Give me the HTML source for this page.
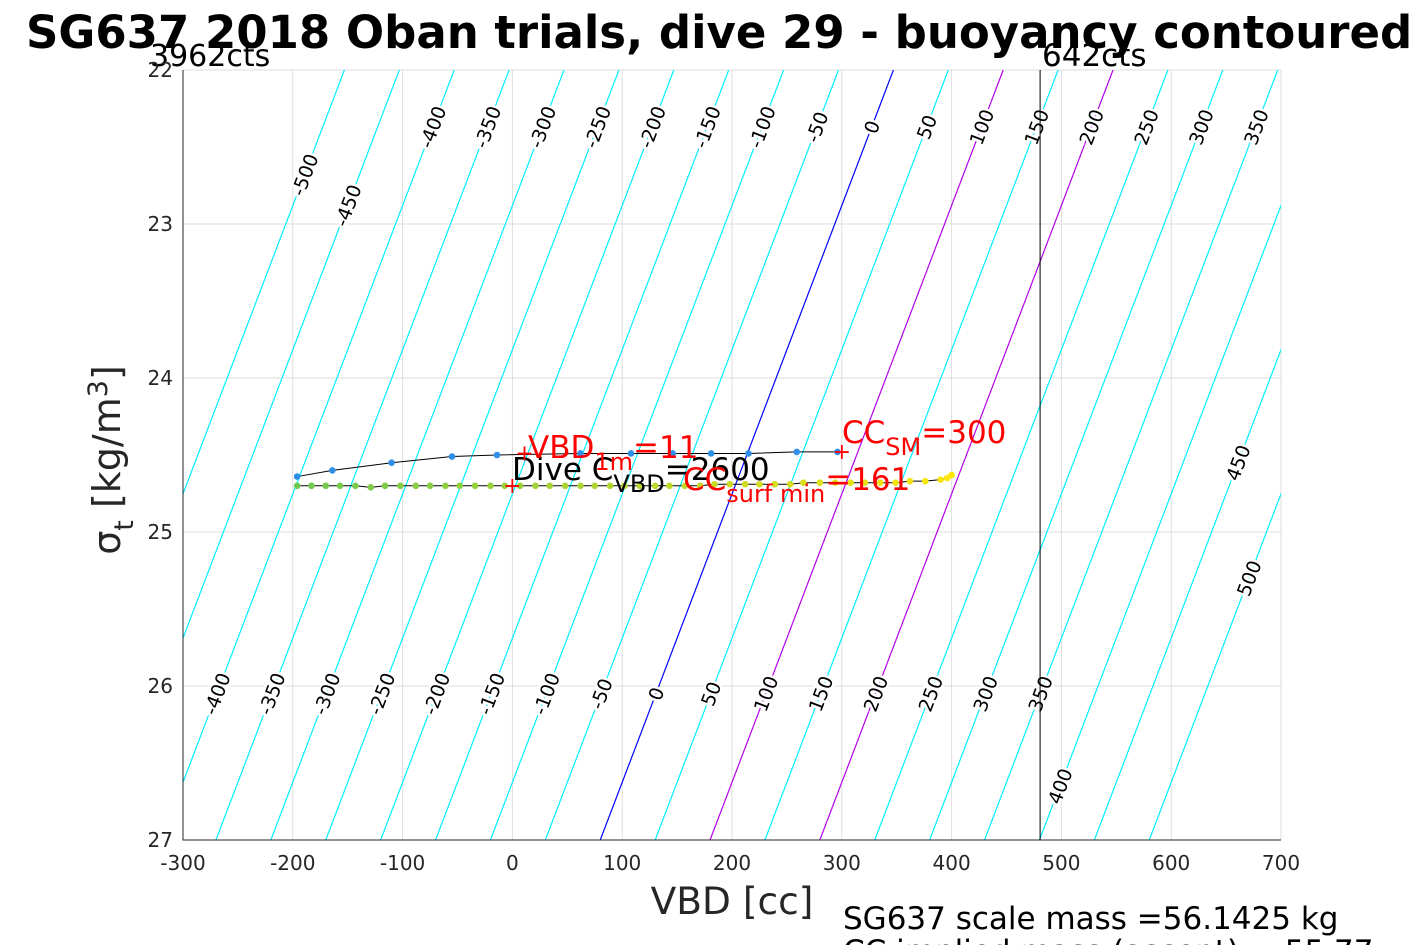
<!DOCTYPE html>
<html><head><meta charset="utf-8"><style>
body{margin:0;background:#fff;}
svg{display:block;font-family:"DejaVu Sans","Liberation Sans",sans-serif;}
</style></head><body>
<svg id="c" width="1417" height="945" viewBox="0 0 1417 945">
<text x="26" y="48" font-size="45" font-weight="bold">SG637 2018 Oban trials, dive 29 - buoyancy contoured</text>
<text x="150" y="66" font-size="30">3962cts</text>
<text x="1042" y="66" font-size="31">642cts</text>
<g id="grid"></g><g id="cont"></g><g id="data"></g><g id="ax"></g>
<text x="732" y="914" font-size="37.5" text-anchor="middle" fill="#262626">VBD [cc]</text>
<text transform="translate(120,460) rotate(-90)" font-size="38" text-anchor="middle" fill="#262626">σ<tspan font-size="27" dy="13">t</tspan><tspan dy="-13"> [kg/m</tspan><tspan font-size="27" dy="-13">3</tspan><tspan dy="13">]</tspan></text>
<text x="843" y="929" font-size="31">SG637 scale mass =56.1425 kg</text>
<text x="843" y="962" font-size="31">CC implied mass (ascent) = 55.77</text>
</svg>
<script>
const xTicks=[-300,-200,-100,0,100,200,300,400,500,600,700];
const yTicks=[22,23,24,25,26,27];
const contourLevels=[-500,-450,-400,-350,-300,-250,-200,-150,-100,-50,0,50,100,150,200,250,300,350,400,450,500];
const downVBD=[-196,-164,-110,-55,-14,62,108,146,181,215,259,296];
const downSigma=[24.64,24.60,24.55,24.51,24.50,24.49,24.49,24.49,24.49,24.49,24.48,24.48];
const upVBD=[-196,-183,-170,-157,-143,-129,-116,-102,-88,-75,-61,-48,-34,-20,-7,7,21,34,48,62,75,89,102,116,130,143,157,171,184,198,212,225,239,253,265,280,294,308,321,335,349,362,376,390,396,400];
const upSigma=[24.70,24.70,24.70,24.70,24.70,24.71,24.70,24.70,24.70,24.70,24.70,24.70,24.70,24.70,24.70,24.70,24.70,24.70,24.70,24.70,24.70,24.70,24.70,24.70,24.70,24.70,24.70,24.70,24.69,24.69,24.69,24.69,24.69,24.69,24.68,24.68,24.68,24.68,24.68,24.68,24.68,24.67,24.67,24.66,24.65,24.63];
const NS="http://www.w3.org/2000/svg";
const X=v=>183+(v+300)*1.098, Y=s=>70+(s-22)*154;
const vbd0=s=>80+53.4*(27-s);
function mk(p,t,a){const e=document.createElementNS(NS,t);for(const k in a)e.setAttribute(k,a[k]);document.getElementById(p).appendChild(e);return e;}
xTicks.forEach(v=>{const l=mk('grid','line',{x1:X(v),x2:X(v),y1:70,y2:840,stroke:'#dedede'});


const t=mk('ax','text',{x:X(v),y:870,'font-size':20,'text-anchor':'middle',fill:'#262626'});t.textContent=v;

});
yTicks.forEach(s=>{const l=mk('grid','line',{x1:183,x2:1281,y1:Y(s),y2:Y(s),stroke:'#dedede'});


const t=mk('ax','text',{x:173,y:Y(s)+7,'font-size':20,'text-anchor':'end',fill:'#262626'});t.textContent=s;

});
const ax=mk('ax','path',{d:'M183,70V840H1281',fill:'none',stroke:'#262626'});


const cp=mk('cont','clipPath',{id:'pc'});const r=document.createElementNS(NS,'rect');
r.setAttribute('x',183);r.setAttribute('y',70);r.setAttribute('width',1098);r.setAttribute('height',770);cp.appendChild(r);
const lg=mk('cont','g',{'clip-path':'url(#pc)'});lg.id='lines';
const ang=-Math.atan2(770,(vbd0(22)-vbd0(27))*1.098)*180/Math.PI;
function topS(b){if(b==-500)return 22.68;if(b==-450)return 22.88;return 22.37;}
function botS(b){if(b==400)return 26.65;if(b==450)return 24.55;if(b==500)return 25.3;return 26.05;}
contourLevels.forEach(b=>{
 const col=b==0?'#0000ff':(b==100||b==200)?'#b400e6':'#00f0ff';
 const l=mk('lines','line',{x1:X(b+vbd0(27)),y1:Y(27),x2:X(b+vbd0(22)),y2:Y(22),stroke:col,'stroke-width':1.2});
 
 
 [topS(b),botS(b)].forEach((s,i)=>{
  if(i==0&&b>350)return; if(i==1&&b<-400)return;
  const x=X(b+vbd0(s)),y=Y(s);if(x<185||x>1279)return;
  const t=mk('cont','text',{x:x,y:y+7,'font-size':19,'text-anchor':'middle',transform:`rotate(${ang},${x},${y})`,stroke:'#fff','stroke-width':5,'paint-order':'stroke'});
  t.textContent=b;
  
  
 });
});
const vl=mk('data','line',{x1:X(480.6),x2:X(480.6),y1:70,y2:840,stroke:'#000'});


const dp=mk('data','polyline',{points:downVBD.map((v,i)=>X(v)+','+Y(downSigma[i])).join(' '),fill:'none',stroke:'#000','stroke-width':1});


const up=mk('data','polyline',{points:upVBD.map((v,i)=>X(v)+','+Y(upSigma[i])).join(' '),fill:'none',stroke:'#000','stroke-width':1});


downVBD.forEach((v,i)=>{const c=mk('data','circle',{cx:X(v),cy:Y(downSigma[i]),r:3.3,fill:'#2f8fe6'});

});
upVBD.forEach((v,i)=>{const f=i/(upVBD.length-1);const rr=Math.round(110+145*f),gg=Math.round(200+30*f),bb=Math.round(80-70*f);
const c=mk('data','circle',{cx:X(v),cy:Y(upSigma[i]),r:3.3,fill:`rgb(${rr},${gg},${bb})`});

});
function txt(x,y,s,html,name,col){const t=mk('data','text',{x:x,y:y,'font-size':s,fill:col});t.innerHTML=html;

}
txt(512,480,31,'Dive C<tspan font-size="24" dy="12">VBD</tspan><tspan dy="-12">=2600</tspan>','dive-cvbd-label','#000');
txt(528,458,31,'VBD<tspan font-size="24" dy="12">1m</tspan><tspan dy="-12">=11</tspan>','vbd-1m-label','#f00');
txt(683,490,31,'CC<tspan font-size="24" dy="12">surf min</tspan><tspan dy="-12">=161</tspan>','cc-surf-min-label','#f00');
txt(842,443,31,'CC<tspan font-size="24" dy="12">SM</tspan><tspan dy="-12">=300</tspan>','cc-sm-label','#f00');
[[0,24.70],[11,24.49],[300,24.48]].forEach(p=>{const t=mk('data','text',{x:X(p[0]),y:Y(p[1])+7,'font-size':22,fill:'#f00','text-anchor':'middle'});t.textContent='+';

});
</script>
</body></html>
